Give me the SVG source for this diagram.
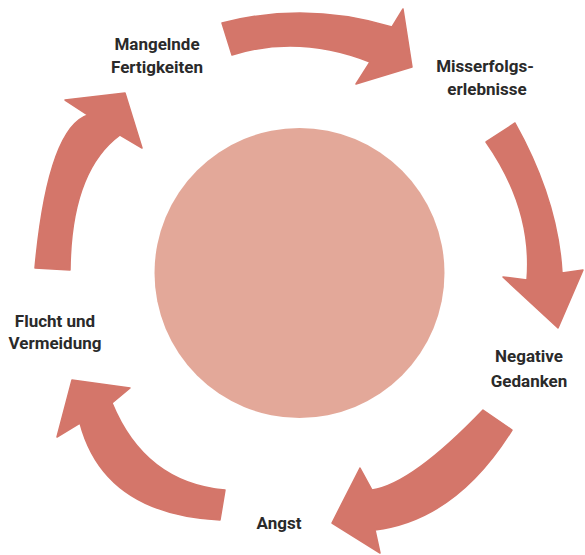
<svg xmlns="http://www.w3.org/2000/svg" width="585" height="555" viewBox="0 0 585 555">
<style>
.arrow{fill:#D4766A;stroke:#D4766A;stroke-width:1.5;stroke-linejoin:round}
.lbl{font-family:Roboto,"Liberation Sans",sans-serif;font-weight:700;font-size:17px;fill:#2a2a2a;text-anchor:middle}
</style>
<rect width="585" height="555" fill="#ffffff"/>
<g id="center"><circle cx="299.5" cy="273" r="145" fill="#E3A899"/></g>
<g id="connectors">
<path class="arrow" d="M222,23 Q307,1 392,27 L403,9 L412,67 L356,84 L370,62 Q299,34 232,55 Z"/>
<path class="arrow" d="M486,142 L515,123 Q558,200 562,273 L583,270 L558,328 L503,277 L527,280 Q533,209 486,142 Z"/>
<path class="arrow" d="M512,430 L483,410 Q412,484 372,490 L360,468 L332,523 L380,553 L375,530 Q456,520 512,430 Z"/>
<path class="arrow" d="M220,520 L225,490 Q145,483 112,403 L130,388 L72,380 L57,437 L80,423 Q104,514 220,520 Z"/>
<path class="arrow" d="M35,268 L70,270 Q71,171 120,135 L142,148 L125,93 L65,100 L88,115 Q48,128 35,268 Z"/>
</g>
<g id="n1"><text class="lbl" x="157" y="50">Mangelnde</text><text class="lbl" x="157" y="73">Fertigkeiten</text></g>
<g id="n2"><text class="lbl" x="485" y="72">Misserfolgs-</text><text class="lbl" x="487" y="95">erlebnisse</text></g>
<g id="n3"><text class="lbl" x="529" y="362">Negative</text><text class="lbl" x="529" y="387">Gedanken</text></g>
<g id="n4"><text class="lbl" x="279" y="529">Angst</text></g>
<g id="n5"><text class="lbl" x="55" y="327">Flucht und</text><text class="lbl" x="55" y="349">Vermeidung</text></g>
</svg>
